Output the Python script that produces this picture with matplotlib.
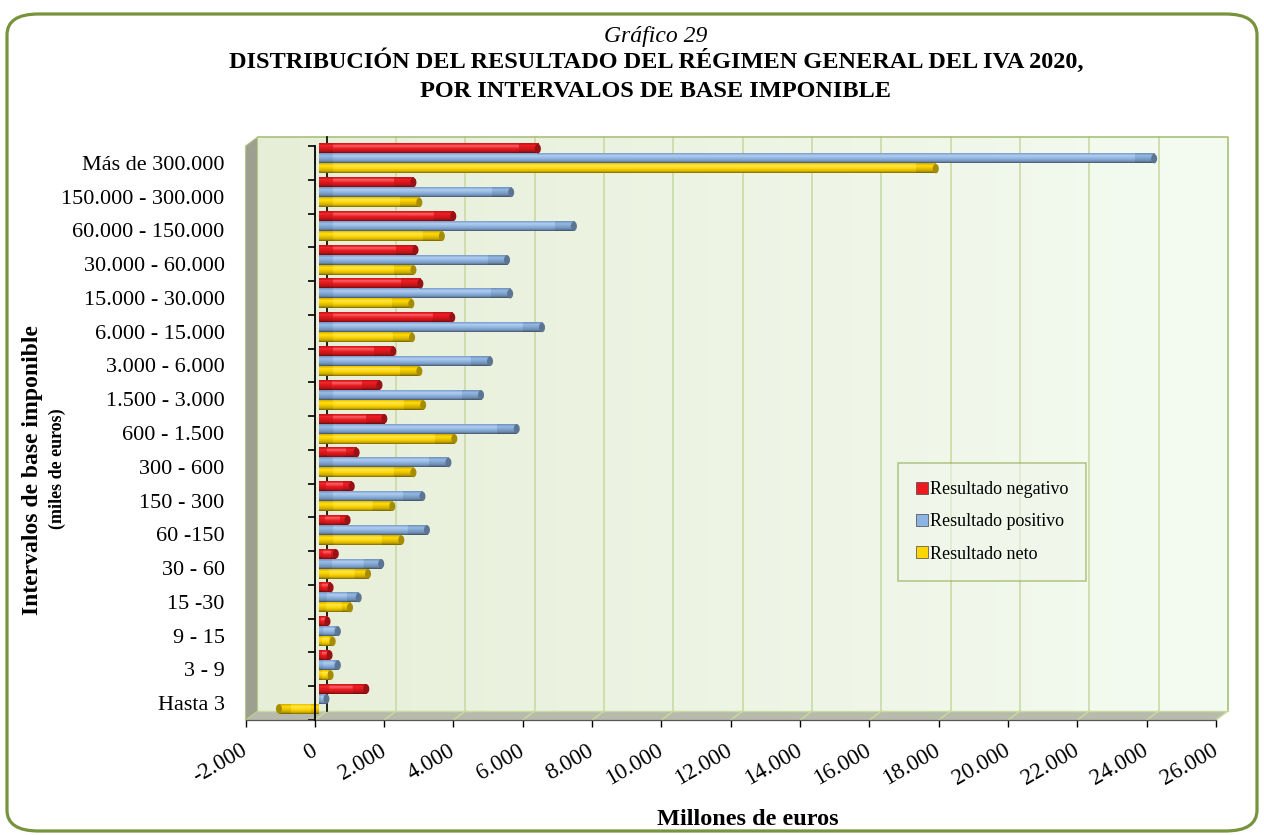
import numpy as np
import matplotlib.pyplot as plt
from matplotlib.colors import to_rgb
from matplotlib.patches import Polygon, FancyBboxPatch, Patch, Ellipse

plt.rcParams['font.family'] = ['Liberation Serif', 'DejaVu Serif']

# datos (millones de euros), de abajo a arriba
categories = ['Hasta 3', '3 - 9', '9 - 15', '15 -30', '30 - 60', '60 -150',
              '150 - 300', '300 - 600', '600 - 1.500', '1.500 - 3.000',
              '3.000 - 6.000', '6.000 - 15.000', '15.000 - 30.000',
              '30.000 - 60.000', '60.000 - 150.000', '150.000 - 300.000',
              'Más de 300.000']
negativo = [1370, 310, 250, 340, 490, 830, 950, 1090, 1890, 1750,
            2150, 3850, 2930, 2790, 3880, 2730, 6320]
positivo = [220, 550, 550, 1150, 1800, 3120, 2990, 3740, 5710, 4680,
            4940, 6440, 5520, 5430, 7360, 5550, 24100]
neto = [-1150, 340, 400, 900, 1420, 2380, 2120, 2730, 3910, 3010,
        2900, 2690, 2670, 2730, 3550, 2900, 17800]
series = ['Resultado negativo', 'Resultado positivo', 'Resultado neto']
colors = ['#EC1A1F', '#8DB4E2', '#FFD700']
xticks = list(range(-2000, 26001, 2000))

W, H = 1264, 835
fig = plt.figure(figsize=(W / 100, H / 100), dpi=100)

# marco exterior redondeado
fig.patches.append(FancyBboxPatch((7 / W, 1 - 831 / H), 1250 / W, 817 / H,
                                  boxstyle='round,pad=0,rounding_size=0.025',
                                  transform=fig.transFigure, fc='none',
                                  ec='#77933C', lw=2.3))

# plano frontal del grafico (px)
L, R, T, B = 245.5, 1216, 146, 720
ax = fig.add_axes([L / W, 1 - B / H, (R - L) / W, (B - T) / H])
x0, x1, y0, y1 = -2000, 26000, -0.5, 16.5
ax.set_xlim(x0, x1)
ax.set_ylim(y0, y1)
ax.autoscale(False)
ax.patch.set_visible(False)

ux = (R - L) / (x1 - x0)
uy = (B - T) / (y1 - y0)
bdx, bdy = 12 / ux, 9 / uy      # profundidad pared del fondo
mdx, mdy = 4 / ux, 4.2 / uy     # plano de las barras

# pared del fondo con degradado
grad = np.linspace(0, 1, 256)[None, :, None]
c0, c1 = np.array(to_rgb('#E7EED8')), np.array(to_rgb('#F4FBF1'))
ax.imshow(c0 + (c1 - c0) * grad, extent=(x0 + bdx, x1 + bdx, y0 + bdy, y1 + bdy),
          aspect='auto', zorder=0, clip_on=False)
for v in xticks[1:-1]:
    ax.plot([v + bdx] * 2, [y0 + bdy, y1 + bdy], color='#C6D89D', lw=1.1,
            zorder=1, clip_on=False)
ax.plot([x0 + bdx, x1 + bdx, x1 + bdx], [y1 + bdy, y1 + bdy, y0 + bdy],
        color='#A9C07A', lw=1.2, zorder=1, clip_on=False)

# suelo y pared izquierda
ax.add_patch(Polygon([(x0, y0), (x1, y0), (x1 + bdx, y0 + bdy), (x0 + bdx, y0 + bdy)],
                     closed=True, fc='#B8BBAC', ec='none', zorder=1.5, clip_on=False))
for v in xticks:
    ax.plot([v, v + bdx], [y0, y0 + bdy], color='#C9DAA0', lw=1, zorder=1.6, clip_on=False)
ax.plot([x0 + bdx, x1 + bdx], [y0 + bdy, y0 + bdy], color='#C9DAA0', lw=1,
        zorder=1.6, clip_on=False)
ax.add_patch(Polygon([(x0, y0), (x0, y1), (x0 + bdx, y1 + bdy), (x0 + bdx, y0 + bdy)],
                     closed=True, fc='#9DA08F', ec='#B5C78A', lw=0.8, zorder=1.7,
                     clip_on=False))

# linea del cero en el fondo
ax.plot([bdx, bdx], [y0 + bdy, y1 + bdy], color='black', lw=1.2, zorder=3, clip_on=False)


def shade(base, f):
    if f <= 1:
        return base * f
    return base + (1 - base) * min((f - 1) * 2.5, 1)


def shaded_bar(color, length_px):
    base = np.array(to_rgb(color))
    ny = 18
    nx = max(int(round(length_px)), 2)
    t = np.linspace(0, 1, ny)
    prof = np.interp(t, [0, 0.15, 0.45, 0.75, 1], [0.5, 0.82, 1.0, 1.14, 0.9])
    hs = np.ones(nx)
    xs = np.arange(nx)
    end = min(20, 0.3 * nx)
    start = min(14, 0.2 * nx)
    hs[xs >= nx - end] *= 0.9
    hs[xs < start] *= 0.92
    F = (prof[:, None] * hs[None, :])[..., None]
    img = np.where(F <= 1, base * F, base + (1 - base) * np.clip((F - 1) * 2.5, 0, 1))
    return np.clip(img, 0, 1)


# barras
bar_h = 0.28
offsets = [0.296, 0, -0.296]
cap_w = 6 / ux
for vals, col, off in zip([negativo, positivo, neto], colors, offsets):
    base = np.array(to_rgb(col))
    for i, v in enumerate(vals):
        img = shaded_bar(col, abs(v) * ux)
        yc = i + off + mdy
        ax.imshow(img, extent=(mdx, v + mdx, yc - bar_h / 2, yc + bar_h / 2),
                  origin='lower', aspect='auto', interpolation='bilinear',
                  zorder=4, clip_on=False)
        ax.add_patch(Ellipse((v + mdx, yc), cap_w, bar_h, fc=shade(base, 0.65),
                             ec='none', zorder=4.1, clip_on=False))

ax.set_xlim(x0, x1)
ax.set_ylim(y0, y1)

# ejes
for s in ['top', 'right']:
    ax.spines[s].set_visible(False)
ax.spines['left'].set_position(('data', 0))
ax.spines['left'].set_zorder(5)
ax.spines['left'].set_linewidth(1.3)
ax.spines['bottom'].set_color('#555555')
ax.spines['bottom'].set_linewidth(0.9)

ax.set_yticks(range(len(categories)))
ax.set_yticklabels(categories, fontsize=16)
ax.set_yticks(np.arange(-0.5, 17, 1), minor=True)
ax.tick_params(axis='y', which='major', length=0, pad=65)
ax.tick_params(axis='y', which='minor', length=5, width=1.2, direction='out')

ax.set_xticks(xticks)
ax.set_xticklabels([f'{v:,}'.replace(',', '.') for v in xticks], fontsize=16.5,
                   rotation=30, ha='right', va='center', rotation_mode='anchor')
ax.tick_params(axis='x', length=5, width=1, pad=16)

# leyenda
handles = [Patch(fc=c, ec='#444444', lw=0.5) for c in colors]
leg = fig.legend(handles, series, loc='upper left', bbox_to_anchor=(898 / W, 1 - 463 / H),
                 borderaxespad=0, fontsize=13, handlelength=0.65, handleheight=0.65,
                 handletextpad=0.1, labelspacing=0.85, borderpad=1.0, fancybox=False,
                 framealpha=0.6)
leg.get_frame().set_facecolor('#F0F6EA')
leg.get_frame().set_edgecolor('#8FA84E')
leg.get_frame().set_linewidth(1.2)

# titulos
fig.text(656 / W, 1 - 42 / H, 'Gráfico 29', ha='center', va='baseline',
         fontsize=17, style='italic')
fig.text(656 / W, 1 - 68 / H, 'DISTRIBUCIÓN DEL RESULTADO DEL RÉGIMEN GENERAL DEL IVA 2020,',
         ha='center', va='baseline', fontsize=17.5, fontweight='bold')
fig.text(656 / W, 1 - 97 / H, 'POR INTERVALOS DE BASE IMPONIBLE',
         ha='center', va='baseline', fontsize=17.5, fontweight='bold')
fig.text(33 / W, 1 - 470 / H, 'Intervalos de base imponible', rotation=90,
         ha='center', va='center', fontsize=17, fontweight='bold')
fig.text(57 / W, 1 - 469 / H, '(miles de euros)', rotation=90,
         ha='center', va='center', fontsize=13, fontweight='bold')
fig.text(748 / W, 1 - 825 / H, 'Millones de euros', ha='center', va='baseline',
         fontsize=17.5, fontweight='bold')

plt.savefig('out.png', dpi=100)
